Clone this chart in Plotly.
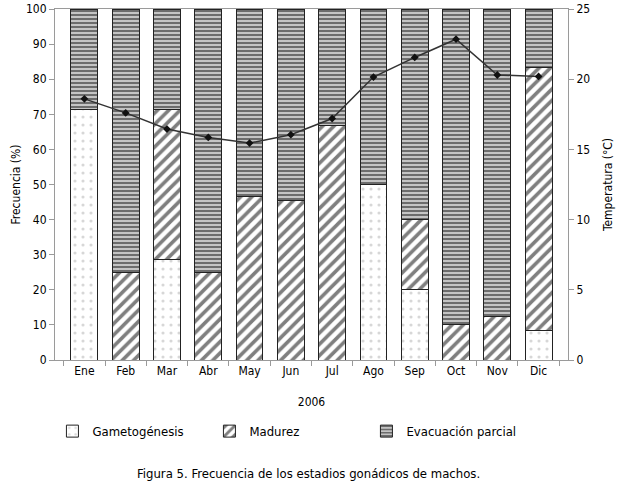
import plotly.graph_objects as go

FONT = "DejaVu Sans Condensed, Liberation Sans Narrow, Arial Narrow, Liberation Sans, Arial, sans-serif"

months = ["Ene", "Feb", "Mar", "Abr", "May", "Jun", "Jul", "Ago", "Sep", "Oct", "Nov", "Dic"]
gametogenesis = [71.4, 0, 28.6, 0, 0, 0, 0, 50.0, 20.0, 0, 0, 8.3]
madurez = [0, 25.0, 42.9, 25.0, 46.7, 45.5, 66.7, 0, 20.0, 10.0, 12.5, 75.0]
evacuacion = [28.6, 75.0, 28.5, 75.0, 53.3, 54.5, 33.3, 50.0, 60.0, 90.0, 87.5, 16.7]
temperatura = [18.6, 17.6, 16.45, 15.85, 15.45, 16.05, 17.2, 20.15, 21.55, 22.85, 20.3, 20.2]

line_style = dict(color="#222222", width=1)

fig = go.Figure()
fig.add_trace(go.Bar(
    x=months, y=gametogenesis, name="Gametogénesis",
    marker=dict(color="white", line=line_style,
                pattern=dict(shape=".", fgcolor="#b0b0b0", bgcolor="white", size=8, solidity=0.12)),
))
fig.add_trace(go.Bar(
    x=months, y=madurez, name="Madurez",
    marker=dict(color="white", line=line_style,
                pattern=dict(shape="/", fgcolor="#000000", bgcolor="white", size=8, solidity=0.45)),
))
fig.add_trace(go.Bar(
    x=months, y=evacuacion, name="Evacuación parcial",
    marker=dict(color="white", line=line_style,
                pattern=dict(shape="-", fgcolor="#000000", bgcolor="#c4c4c4", size=4, solidity=0.45)),
))
fig.add_trace(go.Scatter(
    x=months, y=temperatura, yaxis="y2", mode="lines+markers", showlegend=False,
    line=dict(color="#333333", width=1.5),
    marker=dict(symbol="diamond", size=6, color="#111111"),
))

axis_common = dict(showline=True, linecolor="#9a9a9a", linewidth=1, ticks="outside",
                   tickcolor="#9a9a9a", ticklen=5, showgrid=False, zeroline=False,
                   tickfont=dict(size=12, color="black"))

fig.update_layout(
    barmode="stack", bargap=0.35,
    width=620, height=484,
    margin=dict(l=55, r=52, t=9, b=124, autoexpand=False),
    paper_bgcolor="white", plot_bgcolor="white",
    font=dict(family=FONT, color="black", size=12),
    xaxis=dict(**axis_common, tickson="boundaries", mirror=True,
               title=dict(text="2006", font=dict(size=12), standoff=20)),
    yaxis=dict(**axis_common, range=[0, 100], dtick=10,
               title=dict(text="Frecuencia (%)", font=dict(size=12), standoff=2)),
    yaxis2=dict(**axis_common, range=[0, 25], dtick=5, overlaying="y", side="right",
                title=dict(text="Temperatura (°C)", font=dict(size=12), standoff=14)),
    legend=dict(orientation="h", x=-0.005, xanchor="left", y=-0.16, yanchor="top",
                entrywidth=112, font=dict(size=13), traceorder="normal"),
    annotations=[dict(text="Figura 5. Frecuencia de los estadios gonádicos de machos.",
                      xref="paper", yref="paper", x=0.495, y=-0.322, xanchor="center",
                      yanchor="middle", showarrow=False, font=dict(size=13))],
)

# drop the default 8px body margin so the figure fills the window
fig.write_html("out.html", config={"displayModeBar": False},
               post_script="document.body.style.margin = '0';")
